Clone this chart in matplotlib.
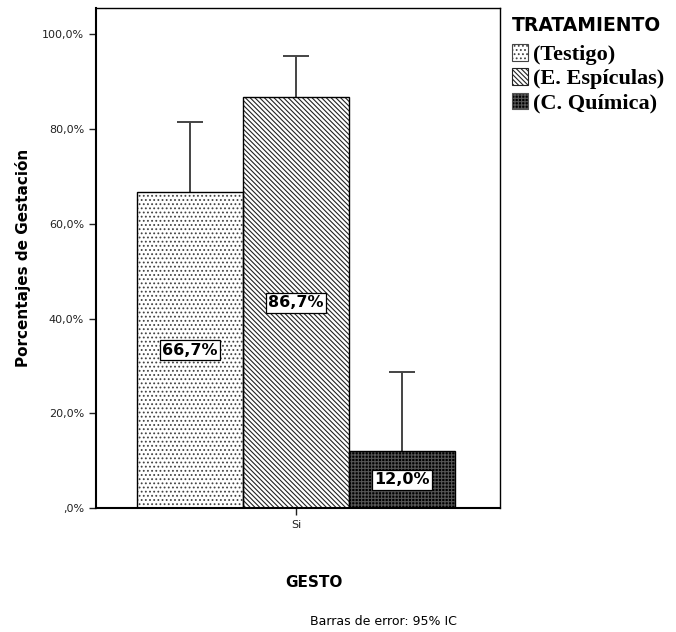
import matplotlib.pyplot as plt
from matplotlib.patches import Patch

# porcentaje de gestación por tratamiento y límite superior del IC 95%
tratamientos = ['(Testigo)', '(E. Espículas)', '(C. Química)']
porcentajes = [66.7, 86.7, 12.0]
ic_superior = [81.4, 95.4, 28.7]
categoria = 'Si'

rellenos = ['white', 'white', 'black']
tramas = ['....', '\\\\\\\\\\\\\\', '+++++']
color_trama = ['#444444', '#222222', '#555555']

fig = plt.figure(figsize=(6.76, 6.32), dpi=100)
ax = fig.add_axes([0.142, 0.196, 0.598, 0.791])

plt.rcParams['hatch.linewidth'] = 0.8
pos = [0, 1, 2]
for i in pos:
    # trama primero, contorno negro encima
    ax.bar(pos[i], porcentajes[i], width=1.0, color=rellenos[i],
           hatch=tramas[i], edgecolor=color_trama[i], linewidth=0, zorder=2)
    ax.bar(pos[i], porcentajes[i], width=1.0, fill=False,
           edgecolor='black', linewidth=1.0, zorder=3)
    # barra de error: solo la parte superior queda a la vista
    ax.vlines(pos[i], porcentajes[i], ic_superior[i], color='#444444', linewidth=1.4, zorder=1)
    ax.hlines(ic_superior[i], pos[i] - 0.123, pos[i] + 0.123, color='#444444',
              linewidth=1.4, zorder=1)
    ax.text(pos[i], porcentajes[i] / 2, f'{porcentajes[i]:.1f}%'.replace('.', ','),
            ha='center', va='center', fontsize=11.5, fontweight='bold', zorder=4,
            bbox=dict(boxstyle='square,pad=0.15', facecolor='white',
                      edgecolor='black', linewidth=0.9))

ax.set_xlim(-0.887, 2.925)
ax.set_ylim(0, 105.5)
ax.set_yticks([0, 20, 40, 60, 80, 100])
ax.set_yticklabels([',0%', '20,0%', '40,0%', '60,0%', '80,0%', '100,0%'])
ax.set_xticks([1])
ax.set_xticklabels([categoria])
ax.tick_params(labelsize=8, length=5, width=1, colors='#222222')
for s in ax.spines.values():
    s.set_linewidth(1.0)
ax.spines['left'].set_linewidth(1.5)
ax.spines['bottom'].set_linewidth(1.5)

ax.set_ylabel('Porcentajes de Gestación', fontsize=11, fontweight='bold', labelpad=8)
fig.text(0.465, 0.079, 'GESTO', ha='center', va='center', fontsize=11, fontweight='bold')
fig.text(0.458, 0.016, 'Barras de error: 95% IC', ha='left', va='center', fontsize=9)

# leyenda fuera del área del gráfico
fig.text(0.757, 0.960, 'TRATAMIENTO', ha='left', va='center', fontsize=13.5, fontweight='bold')
manijas = [Patch(facecolor=rellenos[i], edgecolor=color_trama[i], hatch=tramas[i],
                 linewidth=0.8) for i in pos]
leg = fig.legend(manijas, tratamientos, loc='upper left', bbox_to_anchor=(0.757, 0.93),
                 frameon=False, handlelength=0.75, handleheight=0.75, handletextpad=0.2,
                 labelspacing=0.15, borderaxespad=0, borderpad=0,
                 prop={'family': 'Liberation Serif', 'weight': 'bold', 'size': 16})

fig.savefig('out.png', dpi=100)
